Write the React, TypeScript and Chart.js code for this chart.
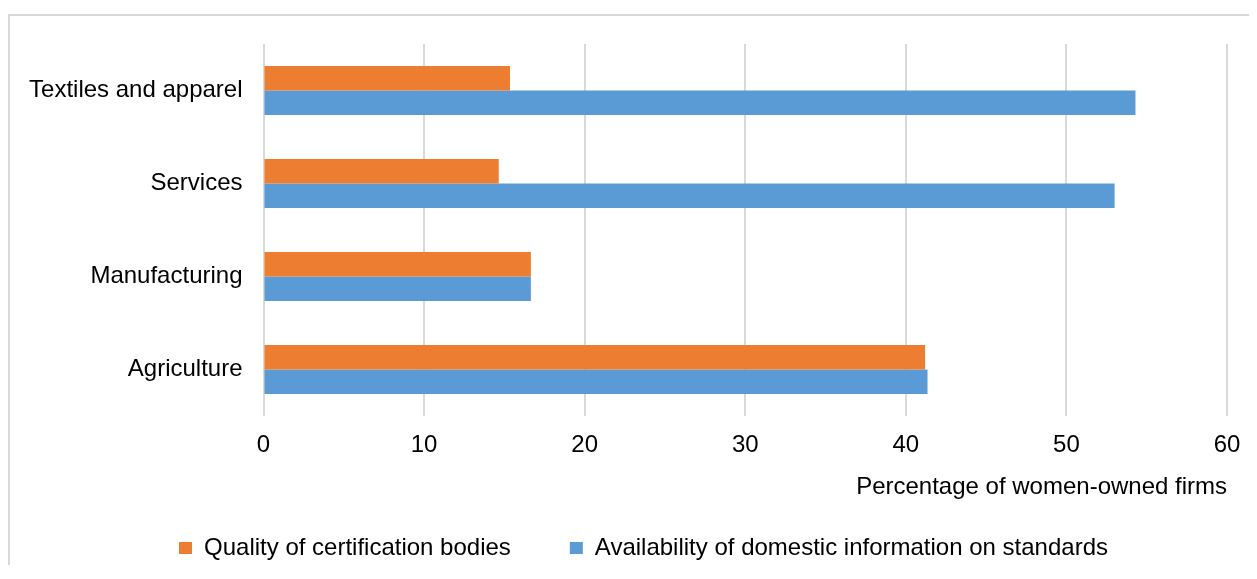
import React, { useEffect, useRef } from 'react';
import { Chart, registerables } from 'chart.js';

Chart.register(...registerables);

const categories = ['Textiles and apparel', 'Services', 'Manufacturing', 'Agriculture'];
const qualityValues = [15.35, 14.65, 16.65, 41.2];
const availabilityValues = [54.3, 53.0, 16.65, 41.35];
const seriesNames = ['Quality of certification bodies', 'Availability of domestic information on standards'];
const xTicks = [0, 10, 20, 30, 40, 50, 60];
const axisTitle = 'Percentage of women-owned firms';

const ORANGE = '#ED7D31';
const BLUE = '#5B9BD5';
const GRID = '#d9d9d9';
const FONT = '"Liberation Sans", Arial, sans-serif';

const shiftLegend = {
  id: 'shiftLegend',
  afterLayout(chart: any) {
    const lg = chart.legend;
    if (lg) {
      lg.left += 18;
      lg.right += 18;
    }
  },
};

export default function App() {
  const canvasRef = useRef<HTMLCanvasElement | null>(null);

  useEffect(() => {
    if (!canvasRef.current) return;
    Chart.defaults.font.family = FONT;
    Chart.defaults.color = '#000000';
    const chart = new Chart(canvasRef.current, {
      type: 'bar',
      data: {
        labels: categories,
        datasets: [
          {
            label: seriesNames[0],
            data: qualityValues,
            backgroundColor: ORANGE,
            borderWidth: 0,
            barPercentage: 1,
            categoryPercentage: 0.527,
          },
          {
            label: seriesNames[1],
            data: availabilityValues,
            backgroundColor: BLUE,
            borderWidth: 0,
            barPercentage: 1,
            categoryPercentage: 0.527,
          },
        ],
      },
      plugins: [shiftLegend],
      options: {
        indexAxis: 'y',
        animation: false,
        responsive: true,
        maintainAspectRatio: false,
        layout: { padding: { top: 28, left: 14, right: 22, bottom: 1 } },
        plugins: {
          tooltip: { enabled: false },
          legend: {
            position: 'bottom',
            align: 'center',
            labels: {
              boxWidth: 13,
              boxHeight: 12,
              padding: 59,
              font: { size: 24, family: FONT },
              color: '#000000',
            },
          },
        },
        scales: {
          x: {
            type: 'linear',
            min: xTicks[0],
            max: xTicks[xTicks.length - 1],
            ticks: {
              stepSize: xTicks[1] - xTicks[0],
              padding: 15,
              font: { size: 24, family: FONT },
              color: '#000000',
            },
            grid: { color: GRID, lineWidth: 2, drawTicks: false },
            border: { display: false },
            title: {
              display: true,
              text: axisTitle,
              align: 'end',
              font: { size: 24, family: FONT },
              color: '#000000',
              padding: { top: -2.2, bottom: -24.4 },
            },
            afterFit: (scale: any) => {
              scale.paddingLeft = 0;
              scale.paddingRight = 0;
            },
          },
          y: {
            type: 'category',
            ticks: {
              padding: 21,
              font: { size: 24, family: FONT },
              color: '#000000',
            },
            grid: { display: false, drawTicks: false },
            border: { display: false },
            afterFit: (scale: any) => {
              scale.width = 239.5;
              scale.paddingTop = 0;
              scale.paddingBottom = 0;
            },
          },
        },
      },
    });
    return () => chart.destroy();
  }, []);

  return (
    <div
      style={{
        position: 'relative',
        top: 6,
        width: 1241,
        height: 557,
        borderTop: `2px solid ${GRID}`,
        borderLeft: `2px solid ${GRID}`,
        boxSizing: 'border-box',
      }}
    >
      <div style={{ position: 'absolute', left: 0, top: 0, width: 1239, height: 555 }}>
        <canvas ref={canvasRef} />
      </div>
    </div>
  );
}
